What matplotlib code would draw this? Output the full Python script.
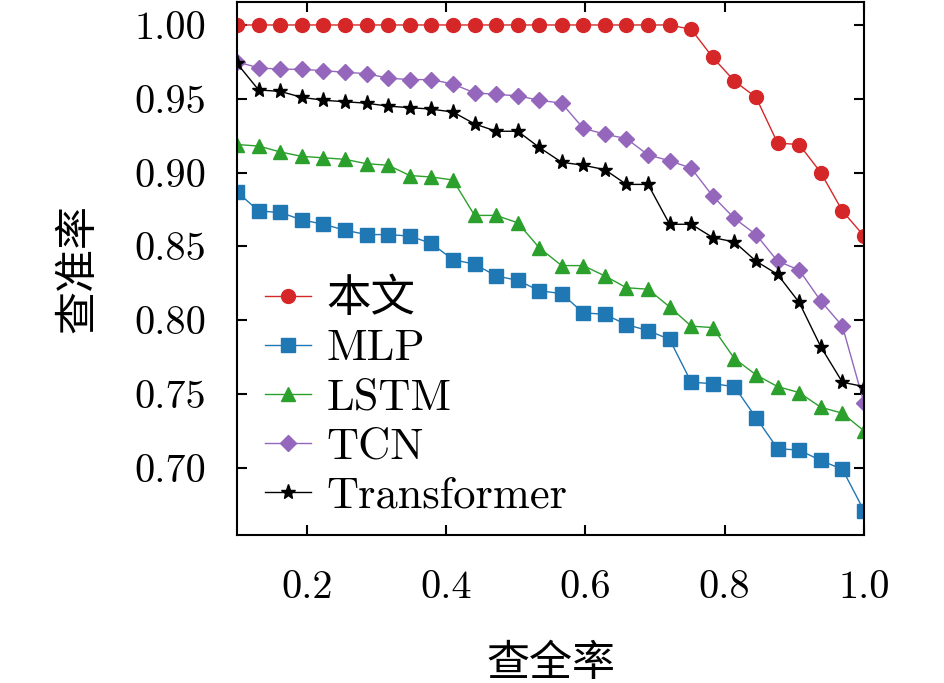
import matplotlib
matplotlib.use("Agg")
import matplotlib.pyplot as plt
from matplotlib.ticker import FixedLocator, FormatStrFormatter

plt.rcParams['font.family'] = ['cmr10', 'Noto Sans CJK SC', 'DejaVu Sans']
plt.rcParams['axes.formatter.use_mathtext'] = True
plt.rcParams['mathtext.fontset'] = 'cm'

recall = [0.1, 0.131, 0.162, 0.193, 0.224, 0.255, 0.286, 0.317, 0.348, 0.379,
          0.41, 0.441, 0.472, 0.503, 0.534, 0.566, 0.597, 0.628, 0.659, 0.69,
          0.721, 0.752, 0.783, 0.814, 0.845, 0.876, 0.907, 0.938, 0.969, 1.0]

ours = [1.0, 1.0, 1.0, 1.0, 1.0, 1.0, 1.0, 1.0, 1.0, 1.0,
        1.0, 1.0, 1.0, 1.0, 1.0, 1.0, 1.0, 1.0, 1.0, 1.0,
        1.0, 0.997, 0.978, 0.962, 0.951, 0.920, 0.919, 0.900, 0.874, 0.857]
mlp = [0.887, 0.874, 0.873, 0.868, 0.865, 0.861, 0.858, 0.858, 0.857, 0.852,
       0.841, 0.838, 0.830, 0.827, 0.820, 0.818, 0.805, 0.804, 0.797, 0.793,
       0.787, 0.758, 0.757, 0.755, 0.734, 0.713, 0.712, 0.705, 0.699, 0.671]
lstm = [0.919, 0.918, 0.914, 0.911, 0.910, 0.909, 0.906, 0.905, 0.898, 0.897,
        0.895, 0.871, 0.871, 0.866, 0.849, 0.837, 0.837, 0.830, 0.822, 0.821,
        0.809, 0.796, 0.795, 0.774, 0.763, 0.755, 0.751, 0.741, 0.737, 0.725]
tcn = [0.975, 0.971, 0.970, 0.970, 0.969, 0.968, 0.967, 0.964, 0.963, 0.963,
       0.960, 0.954, 0.953, 0.952, 0.949, 0.947, 0.930, 0.926, 0.923, 0.912,
       0.908, 0.903, 0.884, 0.869, 0.858, 0.840, 0.834, 0.813, 0.796, 0.744]
transformer = [0.974, 0.956, 0.955, 0.951, 0.949, 0.948, 0.947, 0.945, 0.944, 0.943,
               0.941, 0.933, 0.928, 0.928, 0.917, 0.907, 0.905, 0.902, 0.892, 0.892,
               0.865, 0.865, 0.856, 0.853, 0.840, 0.831, 0.812, 0.782, 0.758, 0.755]

labels = ['本文', 'MLP', 'LSTM', 'TCN', 'Transformer']
xticks = [0.2, 0.4, 0.6, 0.8, 1.0]
yticks = [0.70, 0.75, 0.80, 0.85, 0.90, 0.95, 1.00]

fig = plt.figure(figsize=(9.45, 6.83), dpi=100)
ax = fig.add_axes([237/945, 1 - 535/683, (864-237)/945, (535-1.5)/683])

styles = [
    (ours, '#d62728', 'o', 10),
    (mlp, '#1f77b4', 's', 9.5),
    (lstm, '#2ca02c', '^', 9.5),
    (tcn, '#9467bd', 'D', 8.5),
    (transformer, 'black', '*', 11),
]
for (vals, c, m, ms), lab in zip(styles, labels):
    ax.plot(recall, vals, color=c, marker=m, markersize=ms, linewidth=1.0,
            markeredgecolor=c, label=lab, clip_on=True)

ax.set_xlim(0.1, 1.0)
ax.set_ylim(0.6545, 1.0159)
ax.xaxis.set_major_locator(FixedLocator(xticks))
ax.yaxis.set_major_locator(FixedLocator(yticks))
ax.xaxis.set_major_formatter(FormatStrFormatter('%.1f'))
ax.yaxis.set_major_formatter(FormatStrFormatter('%.2f'))
ax.tick_params(direction='in', top=True, right=True, length=7, width=1.5,
               labelsize=29)
ax.tick_params(axis='x', pad=25)
ax.tick_params(axis='y', pad=22)
for s in ax.spines.values():
    s.set_linewidth(1.5)

ax.set_xlabel('查全率', fontsize=31, labelpad=28)
ax.set_ylabel('查准率', fontsize=31, labelpad=26)

leg = ax.legend(loc='lower left', bbox_to_anchor=(0.045, 0.035), frameon=False,
                fontsize=32, handlelength=1.04, handletextpad=0.34,
                labelspacing=0.2, borderaxespad=0.0, borderpad=0.0)

fig.savefig('out.png', dpi=100)
